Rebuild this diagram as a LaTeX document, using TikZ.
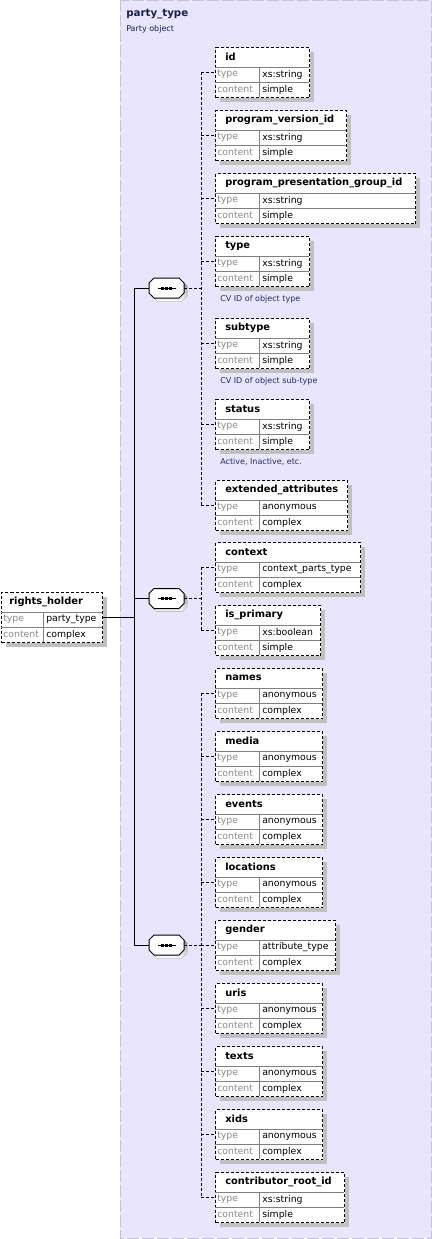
\documentclass[tikz,border=0pt]{standalone}
\usepackage{fontspec}
\setmainfont{DejaVu Sans}
\usepackage{xcolor}
\definecolor{bgfill}{HTML}{E8E5FC}
\definecolor{bgedge}{HTML}{C6C4D4}
\definecolor{shade}{HTML}{C0C0C0}
\definecolor{rowgray}{HTML}{808080}
\definecolor{keygray}{HTML}{8C8C8C}
\definecolor{docblue}{HTML}{1F2D5F}
\definecolor{namenavy}{HTML}{14224A}
\usepackage{tikz}
\usetikzlibrary{positioning,shadows,calc}

\begin{document}
\begin{tikzpicture}[x=0.75pt, y=-0.75pt,
    elembox/.style={rectangle, anchor=north west, fill=white, draw=black, line width=0.75pt,
      dash pattern=on 2.25pt off 1.5pt, minimum height=37.5pt, inner sep=0pt,
      drop shadow={shadow xshift=3pt, shadow yshift=-3pt, fill=shade, opacity=1}},
    seqspot/.style={rectangle, minimum width=26.25pt, minimum height=15pt, inner sep=0pt},
    wire/.style={draw=black, line width=0.75pt},
    link/.style={draw=black, line width=0.75pt, dash pattern=on 2.25pt off 1.5pt},
    rowsep/.style={draw=rowgray, line width=0.75pt},
    heading/.style={font=\fontsize{7.4}{9}\selectfont\bfseries, anchor=west, inner sep=0pt},
    key/.style={font=\fontsize{7}{8}\selectfont, text=keygray, anchor=west, inner sep=0pt},
    val/.style={font=\fontsize{7}{8}\selectfont, anchor=west, inner sep=0pt},
    docnote/.style={font=\fontsize{6}{7}\selectfont, text=docblue, anchor=west, inner sep=0pt},
    typename/.style={font=\fontsize{7.7}{9}\selectfont\bfseries, text=namenavy, anchor=west, inner sep=0pt}]
  \useasboundingbox (0,0) rectangle (432,1239);
  % area of the complex type
  \fill[bgfill] (120,0) rectangle (431.5,1238);
  \draw[bgedge, line width=0.75pt, dash pattern=on 9pt off 2.25pt] (120,0) rectangle (431.5,1238);
  \node[typename] (ptype) at (126,14) {party\_type};
  \node[docnote, text=namenavy] (ptype-doc) at (126,29) {Party object};

  % the element itself
  \node[elembox, minimum width=75.75pt] (holder) at (1,592) {};
  \draw[rowsep] (1,612) -- (102,612) (1,627) -- (102,627) (43,612) -- (43,642);
  \node[heading] (holder-title) at (9,602) {rights\_holder};
  \node[key] (holder-k1) at (3,619.5) {type};
  \node[key] (holder-k2) at (3,634.5) {content};
  \node[val] (holder-v1) at (46,619.5) {party\_type};
  \node[val] (holder-v2) at (46,634.5) {complex};
  \coordinate (holder-out) at (102,617);

  % child elements: name/top/right/title/type/content
  \foreach \nm/\ty/\rx/\ttl/\typ/\cont in {
      id/47/309/id/xs:string/simple,
      progver/110/346/program\_version\_id/xs:string/simple,
      proggroup/173/415/program\_presentation\_group\_id/xs:string/simple,
      objtype/236/309/type/xs:string/simple,
      subtype/318/309/subtype/xs:string/simple,
      status/399/309/status/xs:string/simple,
      extattr/480/347/extended\_attributes/anonymous/complex,
      context/542/360/context/context\_parts\_type/complex,
      primary/605/320/is\_primary/xs:boolean/simple,
      names/668/322/names/anonymous/complex,
      media/731/322/media/anonymous/complex,
      events/794/322/events/anonymous/complex,
      locations/857/322/locations/anonymous/complex,
      gender/920/335/gender/attribute\_type/complex,
      uris/983/322/uris/anonymous/complex,
      texts/1046/322/texts/anonymous/complex,
      xids/1109/322/xids/anonymous/complex,
      rootid/1172/344/contributor\_root\_id/xs:string/simple}{
    \node[elembox, minimum width={(\rx-215)*0.75pt}] (\nm) at (215,\ty) {};
    \draw[rowsep] (215,\ty+20) -- (\rx,\ty+20) (215,\ty+35) -- (\rx,\ty+35)
      (259,\ty+20) -- (259,\ty+50);
    \node[heading] (\nm-title) at (225,\ty+10) {\ttl};
    \node[key] (\nm-k1) at (217,\ty+27.5) {type};
    \node[key] (\nm-k2) at (217,\ty+42.5) {content};
    \node[val] (\nm-v1) at (262,\ty+27.5) {\typ};
    \node[val] (\nm-v2) at (262,\ty+42.5) {\cont};
    \coordinate (\nm-in) at (215,\ty+25);
  }
  \node[docnote] (objtype-doc) at (220,299) {CV ID of object type};
  \node[docnote] (subtype-doc) at (220,381) {CV ID of object sub-type};
  \node[docnote] (status-doc) at (220,462) {Active, Inactive, etc.};

  % sequence compositors
  \foreach \s/\y in {seq1/288, seq2/598.5, seq3/945}{
    \node[seqspot] (\s) at (166.5,\y) {};
    \fill[shade, shift={($(\s.center)+(3,3)$)}] (-12.5,-10) -- (12.5,-10) -- (17.5,-5)
      -- (17.5,5) -- (12.5,10) -- (-12.5,10) -- (-17.5,5) -- (-17.5,-5) -- cycle;
    \draw[wire, fill=white, shift={(\s.center)}] (-12.5,-10) -- (12.5,-10) -- (17.5,-5)
      -- (17.5,5) -- (12.5,10) -- (-12.5,10) -- (-17.5,5) -- (-17.5,-5) -- cycle;
    \draw[wire] ($(\s.center)+(-9,0)$) -- ($(\s.center)+(9,0)$);
    \foreach \d in {-4,0,4}
      \fill ($(\s.center)+(\d-1.5,-1.5)$) rectangle ($(\s.center)+(\d+1.5,1.5)$);
  }

  % solid trunk from the element
  \coordinate (trunk) at (134,617);
  \draw[wire] (holder-out) -- (trunk);
  \draw[wire] (seq1.west -| trunk) -- (seq3.west -| trunk);
  \foreach \s in {seq1,seq2,seq3}
    \draw[wire] (\s.west -| trunk) -- (\s.west);

  % dashed links to the children
  \coordinate (bus) at (201,0);
  \foreach \s in {seq1,seq2,seq3}
    \draw[link] (\s.east) -- (\s.east -| bus);
  \draw[link] (id-in -| bus) -- (extattr-in -| bus);
  \draw[link] (context-in -| bus) -- (primary-in -| bus);
  \draw[link] (names-in -| bus) -- (rootid-in -| bus);
  \foreach \nm in {id,progver,proggroup,objtype,subtype,status,extattr,context,primary,
      names,media,events,locations,gender,uris,texts,xids,rootid}
    \draw[link] (\nm-in -| bus) -- (\nm-in);
\end{tikzpicture}
\end{document}
